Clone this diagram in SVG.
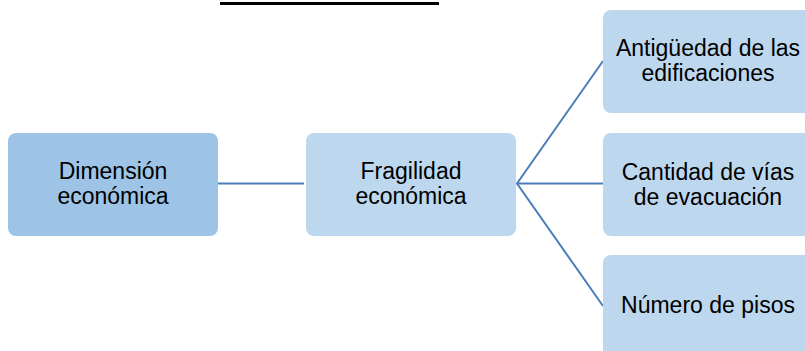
<svg xmlns="http://www.w3.org/2000/svg" width="805" height="351" viewBox="0 0 805 351">
<style>
.box{fill:#BDD7EE}
.dark{fill:#9DC3E6}
.t{font-family:"Liberation Sans",Arial,sans-serif;font-size:23px;fill:#000;text-anchor:middle}
.c{stroke:#4A7EBB;stroke-width:2;fill:none}
</style>
<rect x="0" y="0" width="805" height="351" fill="#fff"/>
<line x1="220" y1="3.5" x2="439" y2="3.5" stroke="#000" stroke-width="3"/>
<g id="connectors">
<line class="c" x1="218" y1="183.5" x2="304" y2="183.5" stroke="#41719C"/>
<polyline class="c" points="603,61 517,183.5 603,306"/>
<line class="c" x1="517" y1="183.5" x2="603" y2="183.5"/>
</g>
<g id="n1">
<rect class="dark" x="8" y="133" width="210" height="103" rx="8"/>
<text class="t" x="113" y="179">Dimensión</text>
<text class="t" x="113" y="204">económica</text>
</g>
<g id="n2">
<rect class="box" x="306" y="133" width="210" height="103" rx="8"/>
<text class="t" x="411" y="179">Fragilidad</text>
<text class="t" x="411" y="204">económica</text>
</g>
<g id="n3">
<rect class="box" x="603" y="10" width="210" height="103" rx="8"/>
<text class="t" x="708" y="56">Antigüedad de las</text>
<text class="t" x="708" y="81">edificaciones</text>
</g>
<g id="n4">
<rect class="box" x="603" y="133" width="210" height="103" rx="8"/>
<text class="t" x="708" y="180">Cantidad de vías</text>
<text class="t" x="708" y="205">de evacuación</text>
</g>
<g id="n5">
<rect class="box" x="603" y="255" width="210" height="103" rx="8"/>
<text class="t" x="708" y="313">Número de pisos</text>
</g>
</svg>
